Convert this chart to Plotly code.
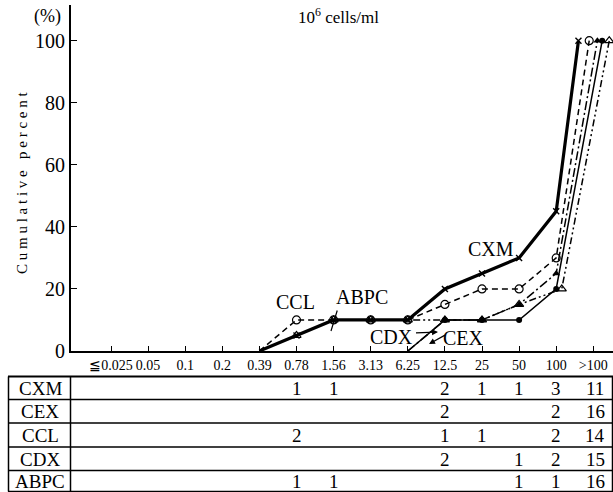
import numpy as np
import plotly.graph_objects as go

# ---------------- data ----------------
categories = ["≦0.025", "0.05", "0.1", "0.2", "0.39", "0.78", "1.56", "3.13",
              "6.25", "12.5", "25", "50", "100", ">100"]
drugs = ["CXM", "CEX", "CCL", "CDX", "ABPC"]
counts_CXM = [0, 0, 0, 0, 0, 1, 1, 0, 0, 2, 1, 1, 3, 11]
counts_CEX = [0, 0, 0, 0, 0, 0, 0, 0, 0, 2, 0, 0, 2, 16]
counts_CCL = [0, 0, 0, 0, 0, 2, 0, 0, 0, 1, 1, 0, 2, 14]
counts_CDX = [0, 0, 0, 0, 0, 0, 0, 0, 0, 2, 0, 1, 2, 15]
counts_ABPC = [0, 0, 0, 0, 0, 1, 1, 0, 0, 0, 0, 1, 1, 16]
y_ticks = [0, 20, 40, 60, 80, 100]

counts = {"CXM": counts_CXM, "CEX": counts_CEX, "CCL": counts_CCL,
          "CDX": counts_CDX, "ABPC": counts_ABPC}

# ---------------- styles ----------------
FONT = "Liberation Serif"
styles = {
    "CXM": dict(line=dict(color="black", width=3.2, dash="solid"),
                marker=dict(symbol="x-thin-open", size=6, line=dict(width=1.4, color="black"), color="black")),
    "CCL": dict(line=dict(color="black", width=1.5, dash="6px,4px"),
                marker=dict(symbol="circle-open", size=8, line=dict(width=1.2, color="black"), color="black")),
    "CEX": dict(line=dict(color="black", width=1.5, dash="solid"),
                marker=dict(symbol="circle", size=6, color="black")),
    "CDX": dict(line=dict(color="black", width=1.5, dash="9px,3px,2px,3px"),
                marker=dict(symbol="triangle-up", size=7, color="black")),
    "ABPC": dict(line=dict(color="black", width=1.5, dash="7px,3px,2px,3px,2px,3px"),
                 marker=dict(symbol="triangle-up-open", size=8, line=dict(width=1.2, color="black"), color="black")),
}
# small horizontal dodge so overlapping series stay visible
dodge_last = {"CXM": -0.40, "CCL": -0.11, "CDX": 0.11, "CEX": 0.24, "ABPC": 0.43}
dodge_100 = {"ABPC": 0.15}

# pixel layout helpers (plot area: x 71..613, y 5..351)
L, R, T, B = 71, 613, 5, 351
W, H = 613, 492
def pxx(p):
    return (p - L) / (R - L)
def pxy(p):
    return (B - p) / (B - T)

fig = go.Figure()
xi = np.arange(len(categories), dtype=float)
for d in ["ABPC", "CDX", "CEX", "CCL", "CXM"]:
    c = np.array(counts[d], dtype=float)
    cum = np.cumsum(c) / c.sum() * 100
    first = int(np.nonzero(c)[0][0])
    start = first - 1
    xs = xi[start:].copy()
    ys = cum[start:]
    xs[-1] += dodge_last.get(d, 0)
    xs[-2] += dodge_100.get(d, 0)
    fig.add_trace(go.Scatter(x=xs, y=ys, mode="lines", line=styles[d]["line"],
                             showlegend=False, hoverinfo="skip"))
    fig.add_trace(go.Scatter(x=xs[1:], y=ys[1:], mode="markers", marker=styles[d]["marker"],
                             showlegend=False, name=d))

step = 37.1
x0 = (L - 111) / step
x1 = (R - 111) / step
ppu = (351 - 40.7) / 100.0
ytop = (B - T) / ppu

fig.update_layout(
    width=W, height=H,
    margin=dict(l=L, r=W - R, t=T, b=H - B),
    paper_bgcolor="white", plot_bgcolor="white",
    font=dict(family=FONT, color="black"),
    xaxis=dict(range=[x0, x1], tickmode="array", tickvals=list(xi), ticktext=categories,
               ticks="inside", ticklen=5, tickwidth=1, tickcolor="black", tickangle=0,
               showline=True, linecolor="black", linewidth=2, showgrid=False, zeroline=False,
               tickfont=dict(size=14, family=FONT), fixedrange=True),
    yaxis=dict(range=[0, ytop], tickmode="array", tickvals=y_ticks,
               ticks="inside", ticklen=6, tickwidth=1, tickcolor="black",
               showline=True, linecolor="black", linewidth=2, showgrid=False, zeroline=False,
               tickfont=dict(size=20, family=FONT), fixedrange=True),
)

ann = []
def text(x, y, s, size=15, xref="paper", yref="paper", textangle=0, xanchor="center"):
    ann.append(dict(x=x, y=y, xref=xref, yref=yref, text=s, showarrow=False,
                    font=dict(size=size, family=FONT, color="black"),
                    textangle=textangle, xanchor=xanchor, yanchor="middle"))

# titles
text(pxx(47), pxy(17), "(%)", size=18)
text(pxx(338), pxy(16), "10<sup>6</sup> cells/ml", size=17)
text(pxx(22), pxy(183), " ".join("Cumulative percent"), size=15, textangle=-90)

# series labels
text((295 - 111) / step, (B - 302) / ppu, "CCL", size=20, xref="x", yref="y")
text((362 - 111) / step, (B - 297) / ppu, "ABPC", size=20, xref="x", yref="y")
text((491 - 111) / step, (B - 249) / ppu, "CXM", size=20, xref="x", yref="y")
text((391 - 111) / step, (B - 337) / ppu, "CDX", size=20, xref="x", yref="y")
text((463 - 111) / step, (B - 338) / ppu, "CEX", size=20, xref="x", yref="y")

# leader arrows
def arrow(hx, hy, tx, ty, head=2):
    ann.append(dict(x=(hx - 111) / step, y=(B - hy) / ppu, xref="x", yref="y",
                    ax=tx - hx, ay=ty - hy, axref="pixel", ayref="pixel",
                    text=" ", showarrow=True, arrowhead=head, arrowsize=1, arrowwidth=1.2,
                    arrowcolor="black", font=dict(size=2)))
arrow(438, 332, 414, 333)
arrow(429, 344, 447, 334)
arrow(331, 331, 338, 308, head=0)

# ---------------- table ----------------
shapes = []
row_lines = [376.5, 399.5, 423, 447, 470.5, 491.5]
for i, yl in enumerate(row_lines):
    shapes.append(dict(type="line", xref="paper", yref="paper", x0=pxx(8), x1=pxx(613),
                       y0=pxy(yl), y1=pxy(yl), line=dict(color="black", width=2 if i == 0 else 1.5)))
for xl in [8.5, 70.5, 612.5]:
    shapes.append(dict(type="line", xref="paper", yref="paper", x0=pxx(xl), x1=pxx(xl),
                       y0=pxy(row_lines[0]), y1=pxy(row_lines[-1]), line=dict(color="black", width=1.5)))

for r, d in enumerate(drugs):
    yc = (row_lines[r] + row_lines[r + 1]) / 2 + 0.5
    text(pxx(40), pxy(yc), d, size=19)
    for j, v in enumerate(counts[d]):
        if v:
            ann.append(dict(x=xi[j] + (0.05 if v >= 10 else 0), y=pxy(yc), xref="x", yref="paper",
                            text=str(v), showarrow=False,
                            font=dict(size=19, family=FONT, color="black"),
                            xanchor="center", yanchor="middle"))

fig.update_layout(annotations=ann, shapes=shapes)
fig.write_html("out.html", config={"displayModeBar": False},
               post_script="document.body.style.margin='0';document.body.style.overflow='hidden';")
